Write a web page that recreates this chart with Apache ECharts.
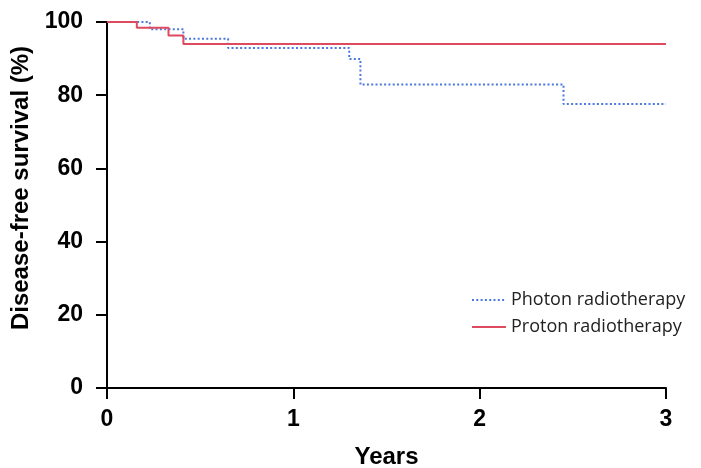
<!DOCTYPE html>
<html>
<head>
<meta charset="utf-8">
<script src="https://cdn.jsdelivr.net/npm/echarts@6/dist/echarts.min.js"></script>
<style>
  html, body { margin: 0; padding: 0; background: #fff; }
  #chart { width: 701px; height: 468px; }
</style>
</head>
<body>
<div id="chart"></div>
<script>
// Kaplan-Meier steps (years, %)
var photonYears = [0, 0.23, 0.41, 0.65, 1.30, 1.36, 2.45, 3.0];
var photonSurv  = [100, 98.0, 95.4, 92.9, 89.9, 82.9, 77.6, 77.6];
var protonYears = [0, 0.16, 0.33, 0.41, 3.0];
var protonSurv  = [100, 98.4, 96.3, 94.0, 94.0];
var xTicks = [0, 1, 2, 3];
var yTicks = [0, 20, 40, 60, 80, 100];

function pairs(xs, ys) {
  var out = [];
  for (var i = 0; i < xs.length; i++) out.push([xs[i], ys[i]]);
  return out;
}

var chart = echarts.init(document.getElementById('chart'));

var boldFont = "'Liberation Sans', Arial, sans-serif";
var axisFont = { fontFamily: boldFont, fontWeight: 'bold', fontSize: 23, color: '#000' };

option = {
  backgroundColor: '#fff',
  animation: false,
  grid: { left: 107, right: 35, top: 22, bottom: 80, outerBoundsMode: 'none' },
  legend: {
    orient: 'vertical',
    left: 466,
    top: 286,
    itemWidth: 34,
    itemHeight: 10,
    itemGap: 9,
    itemStyle: { opacity: 0 },
    textStyle: { fontFamily: "'Open Sans', 'Noto Sans', sans-serif", fontSize: 18, color: '#222' },
    data: ['Photon radiotherapy', 'Proton radiotherapy']
  },
  xAxis: {
    type: 'value',
    min: xTicks[0],
    max: xTicks[xTicks.length - 1],
    interval: 1,
    name: 'Years',
    nameLocation: 'middle',
    nameGap: 57,
    nameTextStyle: { fontFamily: boldFont, fontWeight: 'bold', fontSize: 24, color: '#000' },
    axisLine: { lineStyle: { color: '#000', width: 2 } },
    axisTick: { show: true, length: 11, lineStyle: { color: '#000', width: 2 } },
    axisLabel: Object.assign({ margin: 20 }, axisFont),
    splitLine: { show: false }
  },
  yAxis: {
    type: 'value',
    min: yTicks[0],
    max: yTicks[yTicks.length - 1],
    interval: 20,
    name: 'Disease-free survival (%)',
    nameLocation: 'middle',
    nameGap: 63,
    nameTextStyle: { fontFamily: boldFont, fontWeight: 'bold', fontSize: 24, color: '#000', padding: [0, 0, 0, 34] },
    axisLine: { show: true, lineStyle: { color: '#000', width: 2 } },
    axisTick: { show: true, length: 11, lineStyle: { color: '#000', width: 2 } },
    axisLabel: Object.assign({ margin: 24 }, axisFont),
    splitLine: { show: false }
  },
  series: [{
    name: 'Photon radiotherapy',
    type: 'line',
    step: 'end',
    symbol: 'none',
    z: 2,
    color: '#4a78e0',
    lineStyle: { color: '#4a78e0', width: 2, type: [2, 2.3] },
    data: pairs(photonYears, photonSurv)
  }, {
    name: 'Proton radiotherapy',
    type: 'line',
    step: 'end',
    symbol: 'none',
    z: 3,
    color: '#dc4b5e',
    lineStyle: { color: '#dc4b5e', width: 2 },
    data: pairs(protonYears, protonSurv)
  }]
};

chart.setOption(option);
</script>
</body>
</html>
